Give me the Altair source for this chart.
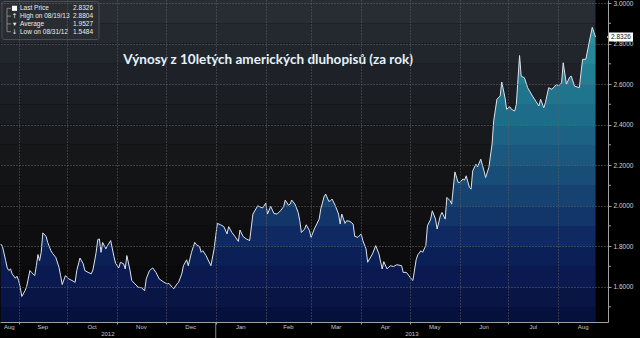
import altair as alt
import pandas as pd

# ---- data: day offset from 2012-09-01 and 10y yield (%) ----
day_offset = [
    -11, -10, -8, -7, -6, -5, -4, -2, -1, 0, 1, 2, 4, 5, 7, 8, 10, 11, 12, 13,
    14, 15, 17, 18, 20, 21, 23, 25, 26, 27, 29, 31, 33, 35, 36, 38, 40, 41, 43, 45,
    46, 48, 49, 50, 51, 52, 54, 55, 57, 59, 60, 62, 63, 65,
    66, 67, 69, 70, 72, 74, 76, 78, 79, 81, 83, 85, 87, 90, 92, 93, 95, 96, 98, 99,
    101, 102, 104, 105, 107, 109, 110, 112, 113, 114, 116, 117, 119, 121, 122, 123,
    125, 127, 129, 130, 132, 134, 136, 137, 139, 141, 143,
    145, 148, 150, 151, 153, 154, 156, 158, 160, 162, 164, 165, 167, 168, 169, 171,
    173, 174, 175, 177, 178, 180, 181, 183, 186, 187, 189, 190, 192, 193, 194, 196,
    198, 199, 200, 202, 203, 205, 207, 208, 210, 212, 213, 215,
    216, 219, 221, 223, 225, 226, 228, 230, 232, 234, 237, 238, 240, 243, 244, 246,
    247, 249, 250, 252, 253, 255, 256, 258, 259, 261, 262, 264, 265, 267, 268, 270,
    272, 273, 275, 276, 277, 279, 280, 281, 283, 284, 286,
    288, 289, 291, 293, 294, 296, 298, 299, 301, 302, 304, 305, 307, 308, 310, 311,
    313, 315, 318, 320, 322, 323, 325, 326, 328, 330, 333, 334, 336, 337, 339, 341,
    342, 344, 347, 348, 349, 351, 353, 355, 357,
]
yield_pct = [
    1.810, 1.799, 1.728, 1.692, 1.679, 1.687, 1.663, 1.641, 1.651, 1.630,
    1.597, 1.551, 1.580, 1.600, 1.679, 1.670, 1.654, 1.703, 1.758, 1.728,
    1.769, 1.865, 1.848, 1.818, 1.777, 1.764, 1.744, 1.695, 1.654, 1.610,
    1.654, 1.638, 1.630, 1.621, 1.679, 1.741, 1.712, 1.679, 1.670, 1.663,
    1.682, 1.769, 1.832, 1.835, 1.769, 1.818, 1.786, 1.802, 1.827, 1.748,
    1.715, 1.692, 1.720, 1.712,
    1.687, 1.753, 1.679, 1.630, 1.613, 1.597, 1.594, 1.580, 1.638, 1.679,
    1.692, 1.670, 1.638, 1.621, 1.613, 1.616, 1.597, 1.589, 1.613, 1.621,
    1.663, 1.703, 1.732, 1.703, 1.769, 1.818, 1.807, 1.797, 1.769, 1.777,
    1.753, 1.736, 1.703, 1.786, 1.851, 1.912, 1.905, 1.896, 1.860, 1.896,
    1.867, 1.846, 1.823, 1.879, 1.846, 1.835, 1.827,
    1.958, 1.999, 1.991, 1.988, 2.012, 1.958, 1.996, 1.961, 1.958, 1.974,
    1.994, 2.027, 2.002, 2.007, 2.027, 2.007, 1.966, 1.925, 1.867, 1.884,
    1.905, 1.876, 1.843, 1.884, 1.933, 1.983, 2.043, 2.057, 2.020, 2.024,
    2.032, 1.999, 1.958, 1.909, 1.958, 1.912, 1.925, 1.922, 1.909, 1.848,
    1.843, 1.860, 1.827, 1.786,
    1.720, 1.761, 1.802, 1.761, 1.687, 1.723, 1.687, 1.703, 1.699, 1.708,
    1.703, 1.670, 1.670, 1.638, 1.630, 1.732, 1.756, 1.777, 1.769, 1.802,
    1.900, 1.933, 1.974, 1.933, 1.884, 1.950, 1.966, 1.933, 2.040, 2.024,
    2.007, 2.166, 2.114, 2.114, 2.131, 2.126, 2.147, 2.089, 2.081, 2.171,
    2.204, 2.191, 2.229,
    2.171, 2.138, 2.188, 2.304, 2.418, 2.525, 2.541, 2.610, 2.532, 2.475,
    2.488, 2.475, 2.467, 2.500, 2.741, 2.639, 2.631, 2.582, 2.541, 2.516,
    2.492, 2.525, 2.483, 2.508, 2.582, 2.574, 2.599, 2.590, 2.606, 2.705,
    2.599, 2.634, 2.639, 2.590, 2.582, 2.654, 2.722, 2.722, 2.803, 2.880,
    2.8326,
]

month_names = ["Aug", "Sep", "Oct", "Nov", "Dec", "Jan", "Feb", "Mar", "Apr",
               "May", "Jun", "Jul", "Aug"]
year_names = ["2012", "2013"]
legend_names = ["Last Price", "High on 08/19/13", "Average", "Low on 08/31/12"]
legend_values = ["2.8326", "2.8804", "1.9527", "1.5484"]
legend_icons = ["", "\u2191", "\u25be", "\u2193"]
last_price = 2.8326
last_label = "2.8326"
title_text = "Výnosy z 10letých amerických dluhopisů (za rok)"
y_major = [1.6, 1.8, 2.0, 2.2, 2.4, 2.6, 2.8, 3.0]
y_minor = [1.5, 1.7, 1.9, 2.1, 2.3, 2.5, 2.7, 2.9]

# ---- styling ----
band_levels = [1.4, 1.5, 1.6, 1.7, 1.8, 1.9, 2.0, 2.1, 2.2, 2.3, 2.4, 2.5, 2.6, 2.7, 2.8, 2.9, 3.0]
bg_colors = ["#070707", "#08080a", "#0a0a0c", "#0c0c0e", "#0e0e10", "#101012", "#121214",
             "#131416", "#151719", "#17191c", "#191c20", "#1b1f24", "#1e2228", "#21262c",
             "#242930", "#282d34", "#282d34"]
fill_colors = ["#06103c", "#081545", "#0a1a50", "#0c2058", "#0f2a62", "#12356a", "#164272",
               "#184d78", "#1a587f", "#1c6285", "#1d6c8a", "#1f758e", "#227e93", "#258797",
               "#2a8f9b", "#2e969f", "#2e969f"]

Y_MIN, Y_MAX = 1.425, 3.015

base = pd.Timestamp("2012-09-01")
df = pd.DataFrame({"date": base + pd.to_timedelta(day_offset, unit="D"), "y": yield_pct})

x_start = pd.Timestamp("2012-08-20 12:00")
x_end = pd.Timestamp("2013-08-31 17:30")
month_starts = list(pd.date_range("2012-09-01", "2013-08-01", freq="MS"))
jan1 = pd.Timestamp("2013-01-01")


def dt(ts):
    return alt.DateTime(year=ts.year, month=ts.month, date=ts.day,
                        hours=ts.hour, minutes=ts.minute)


xscale = alt.Scale(domain=[dt(x_start), dt(x_end)])
yscale = alt.Scale(domain=[Y_MIN, Y_MAX], zero=False, nice=False)

# stepped gradient for the area (relative to the area's bounding box)
vmax = max(yield_pct)
rng = vmax - Y_MIN
stops = []
for lo, col in reversed(list(zip(band_levels, fill_colors))):
    hi = lo + 0.1
    if lo >= vmax:
        continue
    top = min(hi, vmax)
    bot = max(lo, Y_MIN)
    stops.append(alt.GradientStop(offset=max(0.0, (vmax - top) / rng), color=col))
    stops.append(alt.GradientStop(offset=min(1.0, (vmax - bot) / rng), color=col))
gradient = alt.LinearGradient(gradient="linear", stops=stops, x1=0, x2=0, y1=0, y2=1)

yaxis = alt.Axis(
    orient="right", values=y_major, title=None, format=".4f",
    labelFont="Liberation Sans", labelFontSize=6.5, labelColor="#d0d0d0", labelPadding=2,
    labelOverlap=False, labelBound=False, labelFlush=False,
    tickSize=3, tickColor="#a0a0a0", domainColor="#a0a0a0",
    grid=True, gridColor="#6a6a6a", gridDash=[1, 2], gridWidth=1,
    zindex=1,
)
xaxis = alt.Axis(
    values=[dt(m) for m in month_starts], labels=False, title=None,
    tickSize=2, tickColor="#a0a0a0", domainColor="#a0a0a0",
    grid=True, gridColor="#5e5e5e", gridDash=[1, 2], gridWidth=1, zindex=1,
)

bands = pd.DataFrame({
    "lo": band_levels,
    "hi": [l + 0.1 for l in band_levels],
    "c": bg_colors,
    "x0": [x_start] * len(band_levels),
    "x1": [df["date"].max()] * len(band_levels),
})
bg = alt.Chart(bands).mark_rect(clip=True).encode(
    x=alt.X("x0:T", scale=xscale, axis=xaxis), x2="x1:T",
    y=alt.Y("lo:Q", scale=yscale, axis=yaxis), y2="hi:Q",
    color=alt.Color("c:N", scale=None),
)

area = alt.Chart(df).mark_area(color=gradient, clip=True).encode(
    x=alt.X("date:T"),
    y=alt.Y("y:Q"),
    y2=alt.datum(Y_MIN),
)
line = alt.Chart(df).mark_line(color="#dce3ea", strokeWidth=1, clip=True).encode(
    x=alt.X("date:T"),
    y=alt.Y("y:Q"),
)

# minor ticks on the right axis
minor = alt.Chart(pd.DataFrame({"v": y_minor})).mark_rule(color="#a0a0a0", strokeWidth=1).encode(
    x=alt.value(608), x2=alt.value(611), y=alt.Y("v:Q"))

one = pd.DataFrame({"a": [0]})

title = alt.Chart(one).mark_text(
    text=title_text, font="Lato", fontWeight="bold", fontSize=13.5,
    color="#e4f3fc", baseline="middle", align="center",
).encode(x=alt.value(268), y=alt.value(60))

# month / year labels under the axis
bounds = [x_start] + month_starts + [x_end]
mlab = pd.DataFrame({"m": month_names,
                     "t": [a + (b - a) / 2 for a, b in zip(bounds[:-1], bounds[1:])]})
months = alt.Chart(mlab).mark_text(
    font="Liberation Sans", fontSize=6, color="#c8c8c8", baseline="middle",
).encode(x=alt.X("t:T"), y=alt.value(327), text="m:N")

ylab = pd.DataFrame({"m": year_names,
                     "t": [x_start + (jan1 - x_start) / 2, jan1 + (x_end - jan1) / 2]})
years = alt.Chart(ylab).mark_text(
    font="Liberation Sans", fontSize=6, color="#c8c8c8", baseline="middle",
).encode(x=alt.X("t:T"), y=alt.value(334), text="m:N")

sep = alt.Chart(pd.DataFrame({"t": [jan1]})).mark_rule(color="#8a8a8a", strokeWidth=1).encode(
    x=alt.X("t:T"), y=alt.value(322), y2=alt.value(338))

# last price tag on the right axis
tag_df = pd.DataFrame({"v": [last_price], "s": [last_label]})
tag_path = "M-1.17,0L-1,-0.2L-1,-0.375L1,-0.375L1,0.375L-1,0.375L-1,0.2Z"
tag = alt.Chart(tag_df).mark_point(
    shape=tag_path, size=576, filled=True, color="#ffffff", opacity=1, strokeWidth=0,
).encode(x=alt.value(621), y=alt.Y("v:Q"))
tag_txt = alt.Chart(tag_df).mark_text(
    font="Liberation Sans", fontSize=6.5, color="#111111", baseline="middle", align="center",
).encode(x=alt.value(621), y=alt.Y("v:Q"), text="s:N")

# legend box (top-left)
legend_layers = [
    alt.Chart(one).mark_rect(fill="#2a2d31", stroke="#565a5f", strokeWidth=0.8,
                             cornerRadius=2, opacity=0.95).encode(
        x=alt.value(2), x2=alt.value(99), y=alt.value(1.5), y2=alt.value(39.5)),
    alt.Chart(one).mark_rule(color="#9a9a9a", strokeWidth=0.8).encode(
        x=alt.value(7), y=alt.value(8.3), y2=alt.value(31.7)),
]
row_y = [8.3, 16.1, 23.9, 31.7]
for i, (nm, val, ic) in enumerate(zip(legend_names, legend_values, legend_icons)):
    yy = row_y[i]
    legend_layers.append(alt.Chart(one).mark_rule(color="#9a9a9a", strokeWidth=0.8).encode(
        x=alt.value(7), x2=alt.value(11), y=alt.value(yy)))
    legend_layers.append(alt.Chart(one).mark_text(
        text=nm, font="Liberation Sans", fontSize=6.5, color="#ececec",
        align="left", baseline="middle").encode(x=alt.value(20), y=alt.value(yy)))
    legend_layers.append(alt.Chart(one).mark_text(
        text=val, font="Liberation Sans", fontSize=6.5, color="#ececec",
        align="right", baseline="middle").encode(x=alt.value(93), y=alt.value(yy)))
    if ic:
        legend_layers.append(alt.Chart(one).mark_text(
            text=ic, font="DejaVu Sans", fontSize=6.5, color="#ececec",
            align="center", baseline="middle").encode(x=alt.value(14.5), y=alt.value(yy)))
legend_layers.append(alt.Chart(one).mark_square(
    size=26, filled=True, color="#ffffff", opacity=1).encode(
    x=alt.value(14.5), y=alt.value(row_y[0])))

chart = alt.layer(
    bg, area, line, minor, title, *legend_layers, months, years, sep, tag, tag_txt,
).properties(
    width=608, height=322,
    padding={"left": 0, "top": 0, "right": 32, "bottom": 16},
    autosize=alt.AutoSizeParams(type="none"),
    background="#000000",
).configure_view(stroke=None, fill=None)

chart.save("out.html", embed_options={"renderer": "svg", "actions": False})
